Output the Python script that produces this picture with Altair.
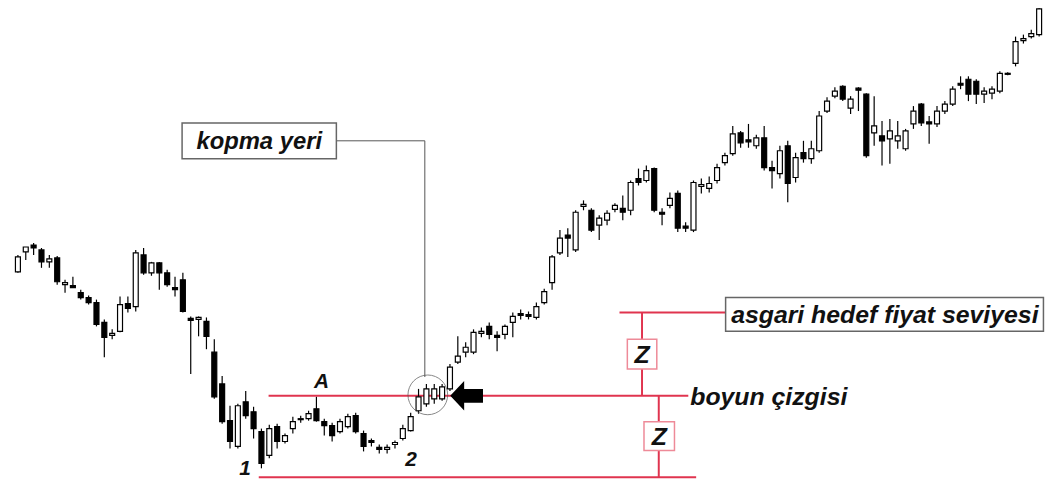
import altair as alt
import pandas as pd

# ---- candle data (index, open, high, low, close) ----
opens = [228,248,255,250,238,242,215,214,207,202,197,177,164,168,196,193,245,227,237,227,
         212,220,181,180,178,147,115,78,52,97,87,67,43,72,57,70,79,80,90,77,
         73,67,72,83,65,58,51,49,54,60,68,88,95,100,100,110,137,147,147,166,
         173,164,165,177,186,185,182,197,217,247,265,250,294,290,275,280,291,292,290,322,
         320,332,288,295,307,274,270,314,312,320,338,347,368,361,355,363,333,327,355,323,
         348,342,350,390,405,415,393,413,407,368,365,362,360,352,377,397,379,377,390,397,
         418,422,420,407,408,410,428,438,461,465,467]
highs = [245,253,257,252,245,244,220,223,210,204,200,180,170,203,203,250,252,238,238,230,
         223,227,183,183,182,160,123,93,95,108,92,70,74,75,65,82,83,88,102,80,
         76,80,85,86,68,60,54,54,58,74,86,110,115,115,115,135,163,157,170,172,
         177,168,175,187,190,188,197,211,245,270,272,290,300,292,285,290,297,305,320,332,
         335,333,292,308,310,278,320,322,324,337,348,375,370,377,366,375,340,355,360,348,
         360,360,390,404,414,416,405,414,408,405,380,382,380,372,395,398,385,395,400,415,
         425,425,422,414,415,430,429,465,467,472,495]
lows = [227,240,245,232,232,215,207,212,200,195,173,142,160,167,187,188,225,224,210,213,
        203,187,125,163,150,100,75,50,50,80,60,30,40,50,55,65,76,78,77,63,
        57,65,70,65,47,52,45,45,50,58,67,85,92,95,98,108,135,142,145,162,
        160,148,160,162,180,180,180,195,210,245,243,248,290,268,260,275,288,280,285,315,
        318,288,275,292,268,268,268,307,308,317,335,345,353,353,352,330,312,322,298,318,
        338,337,348,388,403,400,387,390,343,355,335,337,352,350,372,375,357,374,387,395,
        412,400,397,398,402,408,426,435,458,463,465]
closes = [243,253,252,238,241,218,217,212,202,197,175,162,166,195,191,247,227,237,227,215,
          210,188,179,182,163,102,77,57,93,83,70,35,70,57,63,77,80,85,78,73,
          63,77,82,67,52,56,49,51,56,70,82,102,110,110,112,132,143,152,167,168,
          165,162,173,183,184,183,193,208,243,262,262,288,296,270,282,287,295,288,318,318,
          330,290,286,302,272,272,318,316,317,333,345,367,358,359,363,333,330,350,317,343,
          342,352,385,400,410,402,402,411,345,375,360,370,365,370,390,378,377,390,397,412,
          416,407,407,410,412,428,427,460,463,468,493]

# ---- annotation values (same units as the candles) ----
neck_level = 103
bottom_level = 21
target_level = 187
red_lines = {"y": [target_level, neck_level, bottom_level],
             "x1": [77.58, 32.91, 31.66],
             "x2": [91.09, 86.34, 87.34]}
z_lines = {"x": [80.45, 82.58], "y1": [target_level, neck_level], "y2": [neck_level, bottom_level]}
z_boxes = {"x1": [78.58, 80.70], "x2": [82.33, 84.58], "y1": [160, 77], "y2": [130, 48],
           "cx": [80.45, 82.64], "cy": [145, 62.5], "t": ["Z", "Z"]}
label_boxes = {"x1": [21.9, 91.09], "x2": [41.54, 131.55], "y1": [378, 202], "y2": [342, 168],
               "cx": [31.72, 111.36], "cy": [360, 185], "t": ["kopma yeri", "asgari hedef fiyat seviyesi"],
               "fs": [24, 25]}
connector = {"x1": [41.54, 52.80], "x2": [52.80, 52.80], "y1": [360, 360], "y2": [360, 122]}
circle_pt = {"x": [53.18], "y": [104]}
arrow_pt = {"x": [58.12], "y": [103]}
point_labels = {"x": [39.66, 29.9, 51.05], "y": [117, 29, 38], "t": ["A", "1", "2"]}
neck_label = {"x": [86.59], "y": [neck_level], "t": ["boyun çizgisi"]}

n = len(opens)
df = pd.DataFrame({"i": list(range(1, n + 1)), "open": opens, "high": highs,
                   "low": lows, "close": closes})
df["lo"] = df[["open", "close"]].min(axis=1)
df["hi"] = df[["open", "close"]].max(axis=1)
df["dir"] = ["up" if c >= o else "down" for o, c in zip(df["open"], df["close"])]

xs = alt.Scale(domain=[0.37, 131.88], nice=False, zero=False)
ys = alt.Scale(domain=[16, 492], nice=False, zero=False)
X = lambda f: alt.X(f, scale=xs, axis=None)
Y = lambda f: alt.Y(f, scale=ys, axis=None)

RED = "#e0344f"
FONT = "Liberation Sans"
INK = "#111"

base = alt.Chart(df)
wicks = base.mark_rule(color="black", strokeWidth=1.2).encode(
    x=X("i:Q"), y=Y("low:Q"), y2="high:Q")
bodies = base.mark_bar(size=5, stroke="black", strokeWidth=1.2).encode(
    x=X("i:Q"), y=Y("lo:Q"), y2="hi:Q",
    fill=alt.Fill("dir:N", scale=alt.Scale(domain=["up", "down"], range=["white", "black"]), legend=None))

rl = alt.Chart(pd.DataFrame(red_lines)).mark_rule(color=RED, strokeWidth=2).encode(
    x=X("x1:Q"), x2="x2:Q", y=Y("y:Q"))
zl = alt.Chart(pd.DataFrame(z_lines)).mark_rule(color=RED, strokeWidth=2).encode(
    x=X("x:Q"), y=Y("y1:Q"), y2="y2:Q")
zb = alt.Chart(pd.DataFrame(z_boxes)).mark_rect(fill="white", stroke="#ee8a98", strokeWidth=1.5).encode(
    x=X("x1:Q"), x2="x2:Q", y=Y("y1:Q"), y2="y2:Q")
zt = alt.Chart(pd.DataFrame(z_boxes)).mark_text(font=FONT, fontSize=25, fontWeight="bold",
                                                 fontStyle="italic", color=INK, baseline="middle", dy=1) \
    .encode(x=X("cx:Q"), y=Y("cy:Q"), text="t:N")

conn = alt.Chart(pd.DataFrame(connector)).mark_rule(color="#555", strokeWidth=1).encode(
    x=X("x1:Q"), x2="x2:Q", y=Y("y1:Q"), y2="y2:Q")
lb_shadow = alt.Chart(pd.DataFrame(label_boxes)).mark_rect(fill="#bbb", xOffset=2, yOffset=2, opacity=0.8).encode(
    x=X("x1:Q"), x2="x2:Q", y=Y("y1:Q"), y2="y2:Q")
lb = alt.Chart(pd.DataFrame(label_boxes)).mark_rect(fill="white", stroke="#666", strokeWidth=1.5).encode(
    x=X("x1:Q"), x2="x2:Q", y=Y("y1:Q"), y2="y2:Q")
lt = alt.Chart(pd.DataFrame(label_boxes)).mark_text(font=FONT, fontWeight="bold",
                                                     fontStyle="italic", color=INK, baseline="middle", dy=1) \
    .encode(x=X("cx:Q"), y=Y("cy:Q"), text="t:N", size=alt.Size("fs:Q", scale=None, legend=None))

circ = alt.Chart(pd.DataFrame(circle_pt)).mark_point(shape="circle", size=1600, filled=False,
                                                      color="#555", strokeWidth=1).encode(
    x=X("x:Q"), y=Y("y:Q"))
arrow_path = "M -1 0 L -0.15 -0.9 L -0.15 -0.42 L 1 -0.42 L 1 0.42 L -0.15 0.42 L -0.15 0.9 Z"
arrow = alt.Chart(pd.DataFrame(arrow_pt)).mark_point(shape=arrow_path, size=1089, filled=True,
                                                      color="black", opacity=1, strokeWidth=0).encode(
    x=X("x:Q"), y=Y("y:Q"))

pl = alt.Chart(pd.DataFrame(point_labels)).mark_text(font=FONT, fontSize=21, fontWeight="bold",
                                                      fontStyle="italic", color=INK, baseline="middle") \
    .encode(x=X("x:Q"), y=Y("y:Q"), text="t:N")
nl = alt.Chart(pd.DataFrame(neck_label)).mark_text(font=FONT, fontSize=25, fontWeight="bold",
                                                    fontStyle="italic", color=INK, baseline="middle",
                                                    align="left", dy=1) \
    .encode(x=X("x:Q"), y=Y("y:Q"), text="t:N")

chart = alt.layer(rl, zl, wicks, bodies, zb, zt, conn, lb_shadow, lb, lt, circ, arrow, pl, nl).properties(
    width=1051, height=476, padding=0, background="white",
    autosize=alt.AutoSizeParams(type="none")
).configure_view(stroke=None)

chart.save("out.html", embed_options={"renderer": "svg", "actions": False})
